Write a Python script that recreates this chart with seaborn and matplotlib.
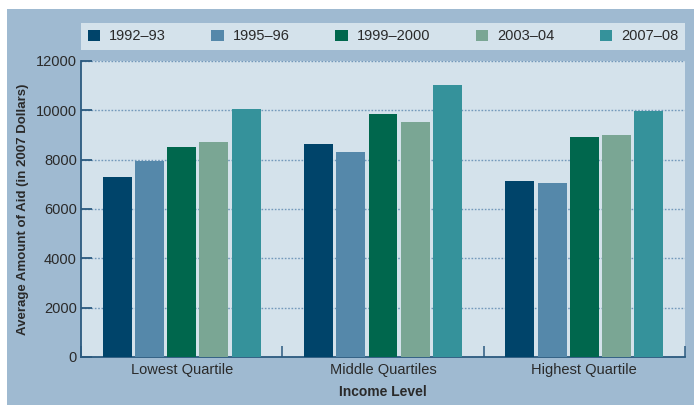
import matplotlib
matplotlib.use("Agg")
import matplotlib.pyplot as plt
from matplotlib.patches import Rectangle, Patch
import seaborn as sns
import pandas as pd

categories = ["Lowest Quartile", "Middle Quartiles", "Highest Quartile"]
years = ["1992–93", "1995–96", "1999–2000", "2003–04", "2007–08"]
values = {
    "1992–93":   [7280, 8620, 7150],
    "1995–96":   [7930, 8300, 7070],
    "1999–2000": [8500, 9840, 8900],
    "2003–04":   [8700, 9510, 9020],
    "2007–08":   [10050, 11020, 9990],
}
yticks = [0, 2000, 4000, 6000, 8000, 10000, 12000]
colors = ["#00446a", "#5588aa", "#00674d", "#7aa694", "#35929b"]

rows = []
for y in years:
    for c, v in zip(categories, values[y]):
        rows.append({"Income Level": c, "Year": y, "Aid": v})
df = pd.DataFrame(rows)

sns.set_theme(style="white")
plt.rcParams["font.family"] = ["Liberation Sans", "DejaVu Sans"]
text_color = "#2a2a2a"
bg = "#9fbad1"
face = "#d4e2eb"
dark = "#2b5a7f"

fig = plt.figure(figsize=(6.94, 4.05), dpi=100, facecolor="white")
fig.patches.append(Rectangle((7 / 694, 0), 1 - 7 / 694, (405 - 9) / 405,
                             transform=fig.transFigure, facecolor=bg,
                             edgecolor="none", zorder=-10))

ax = fig.add_axes([81 / 694, (405 - 357) / 405, (685 - 81) / 694, (357 - 61) / 405])
ax.set_facecolor(face)

sns.barplot(data=df, x="Income Level", y="Aid", hue="Year", hue_order=years,
            order=categories, palette=colors, width=0.8, gap=0.1,
            saturation=1, legend=False, ax=ax, zorder=3, edgecolor="none")

ax.set_xlim(-0.5, 2.5)
ax.set_ylim(0, 12000)
ax.set_yticks(yticks)
ax.set_yticklabels([str(t) for t in yticks])
ax.yaxis.grid(True, linestyle=(0, (1.2, 1.2)), color="#7399bb", linewidth=1.0, zorder=0)
ax.set_axisbelow(True)

for s in ["top", "right"]:
    ax.spines[s].set_visible(False)
for s in ["left", "bottom"]:
    ax.spines[s].set_color(dark)
    ax.spines[s].set_linewidth(1.3)

ax.tick_params(axis="y", direction="in", length=8, width=1.3, color=dark,
               labelsize=10.5, labelcolor=text_color, pad=3, left=True)
ax.set_xticks([-0.5, 0.5, 1.5, 2.5], minor=True)
ax.tick_params(axis="x", which="minor", direction="in", length=8, width=1.1,
               color=dark, bottom=True)
ax.tick_params(axis="x", which="major", length=0, labelsize=10.5,
               labelcolor=text_color, pad=4)

ax.set_xlabel("Income Level", fontsize=10, fontweight="bold", color=text_color, labelpad=6)
ax.set_ylabel("Average Amount of Aid (in 2007 Dollars)", fontsize=9.5,
              fontweight="bold", color=text_color, labelpad=5)

handles = [Patch(facecolor=c, edgecolor="none") for c in colors]
leg = fig.legend(handles, years, loc="lower left",
                 bbox_to_anchor=(81 / 694, (405 - 50) / 405, (685 - 81) / 694, 29 / 405),
                 mode="expand", ncol=5, frameon=True, fancybox=False,
                 facecolor=face, edgecolor="none", framealpha=1,
                 fontsize=10.5, handlelength=0.85, handleheight=0.85,
                 handletextpad=0.6, borderpad=0.45, borderaxespad=0)
for t in leg.get_texts():
    t.set_color(text_color)

fig.savefig("out.png", dpi=100, facecolor=fig.get_facecolor())
